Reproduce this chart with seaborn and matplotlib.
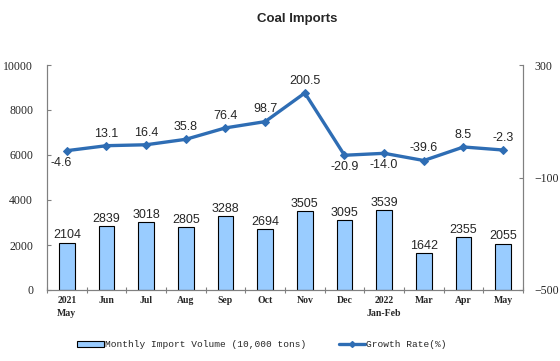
import matplotlib
matplotlib.use('Agg')
import matplotlib.pyplot as plt
from matplotlib.lines import Line2D
from matplotlib.patches import Patch
import numpy as np
import pandas as pd
import seaborn as sns

months = ['2021\nMay', 'Jun', 'Jul', 'Aug', 'Sep', 'Oct', 'Nov', 'Dec',
          '2022\nJan-Feb', 'Mar', 'Apr', 'May']
volume = [2104, 2839, 3018, 2805, 3288, 2694, 3505, 3095, 3539, 1642, 2355, 2055]
growth = [-4.6, 13.1, 16.4, 35.8, 76.4, 98.7, 200.5, -20.9, -14.0, -39.6, 8.5, -2.3]
# label above (1) or below (-1) the line point
growth_pos = [-1, 1, 1, 1, 1, 1, 1, -1, -1, 1, 1, 1]

sns.set_style('white')
plt.rcParams['font.family'] = ['Liberation Sans', 'DejaVu Sans']

df = pd.DataFrame({'month': months, 'volume': volume, 'growth': growth})

fig = plt.figure(figsize=(5.6, 3.61), dpi=100)
# spines at x 47..523, y 65..290
ax = fig.add_axes([47 / 560, 71 / 361, 476 / 560, 225 / 361])

bar_col = '#99CCFF'
line_col = '#2E6DB4'

sns.barplot(data=df, x='month', y='volume', ax=ax, color=bar_col,
            edgecolor='black', linewidth=0.8, width=0.40, saturation=1)
ax.set_ylim(0, 10000)
ax.set_xlim(-0.5, 11.5)
ax.set_yticks(np.arange(0, 10001, 2000))
ax.set_xlabel('')
ax.set_ylabel('')
for i, v in enumerate(volume):
    ax.text(i, v + 60, str(v), ha='center', va='bottom', fontsize=9)

ax2 = ax.twinx()
ax2.set_position(ax.get_position())
sns.lineplot(x=np.arange(len(months)), y=growth, ax=ax2, color=line_col,
             linewidth=2.4, marker='D', markersize=4.5,
             markeredgecolor=line_col, sort=False)
ax2.set_ylim(-500, 300)
ax2.set_yticks([-500, -100, 300])
ax2.set_xlim(-0.5, 11.5)
for i, g in enumerate(growth):
    if growth_pos[i] > 0:
        ax2.text(i, g + 22, '%.1f' % g, ha='center', va='bottom', fontsize=9)
    else:
        dx = -0.15 if i == 0 else 0
        ax2.text(i + dx, g - 22, '%.1f' % g, ha='center', va='top', fontsize=9)

for a in (ax, ax2):
    for s in a.spines.values():
        s.set_color('#808080')
        s.set_linewidth(0.8)
    a.spines['top'].set_visible(False)

ax.tick_params(axis='y', direction='in', length=3, width=0.8, color='#808080',
               labelsize=8.5, pad=10, left=True, labelfontfamily='Liberation Serif')
ax2.tick_params(axis='y', direction='in', length=3, width=0.8, color='#808080',
                labelsize=8.5, pad=8, right=True, labelfontfamily='Liberation Serif')

ax.set_xticks(np.arange(len(months)))
ax.set_xticklabels(months, fontsize=7, family='Liberation Serif', fontweight='bold',
                   linespacing=1.6)
ax.tick_params(axis='x', length=0, pad=4)
ax.set_xticks(np.arange(-0.5, 12, 1), minor=True)
ax.tick_params(axis='x', which='minor', direction='inout', length=4, width=0.8,
               color='#808080', bottom=True)

fig.suptitle('Coal Imports', x=0.53, y=0.965, fontsize=9.5, fontweight='bold')

handles = [Patch(facecolor=bar_col, edgecolor='black', linewidth=0.8),
           Line2D([0], [0], color=line_col, linewidth=2.4, marker='D', markersize=3)]
labels = ['Monthly Import Volume (10,000 tons)', 'Growth Rate(%)']
fig.legend(handles, labels, loc='center', bbox_to_anchor=(0.468, 0.045), ncol=2,
           frameon=False, prop={'family': 'Liberation Mono', 'size': 6.8},
           handlelength=2.8, handletextpad=0.15, columnspacing=3.4)

fig.savefig('out.png', dpi=100)
